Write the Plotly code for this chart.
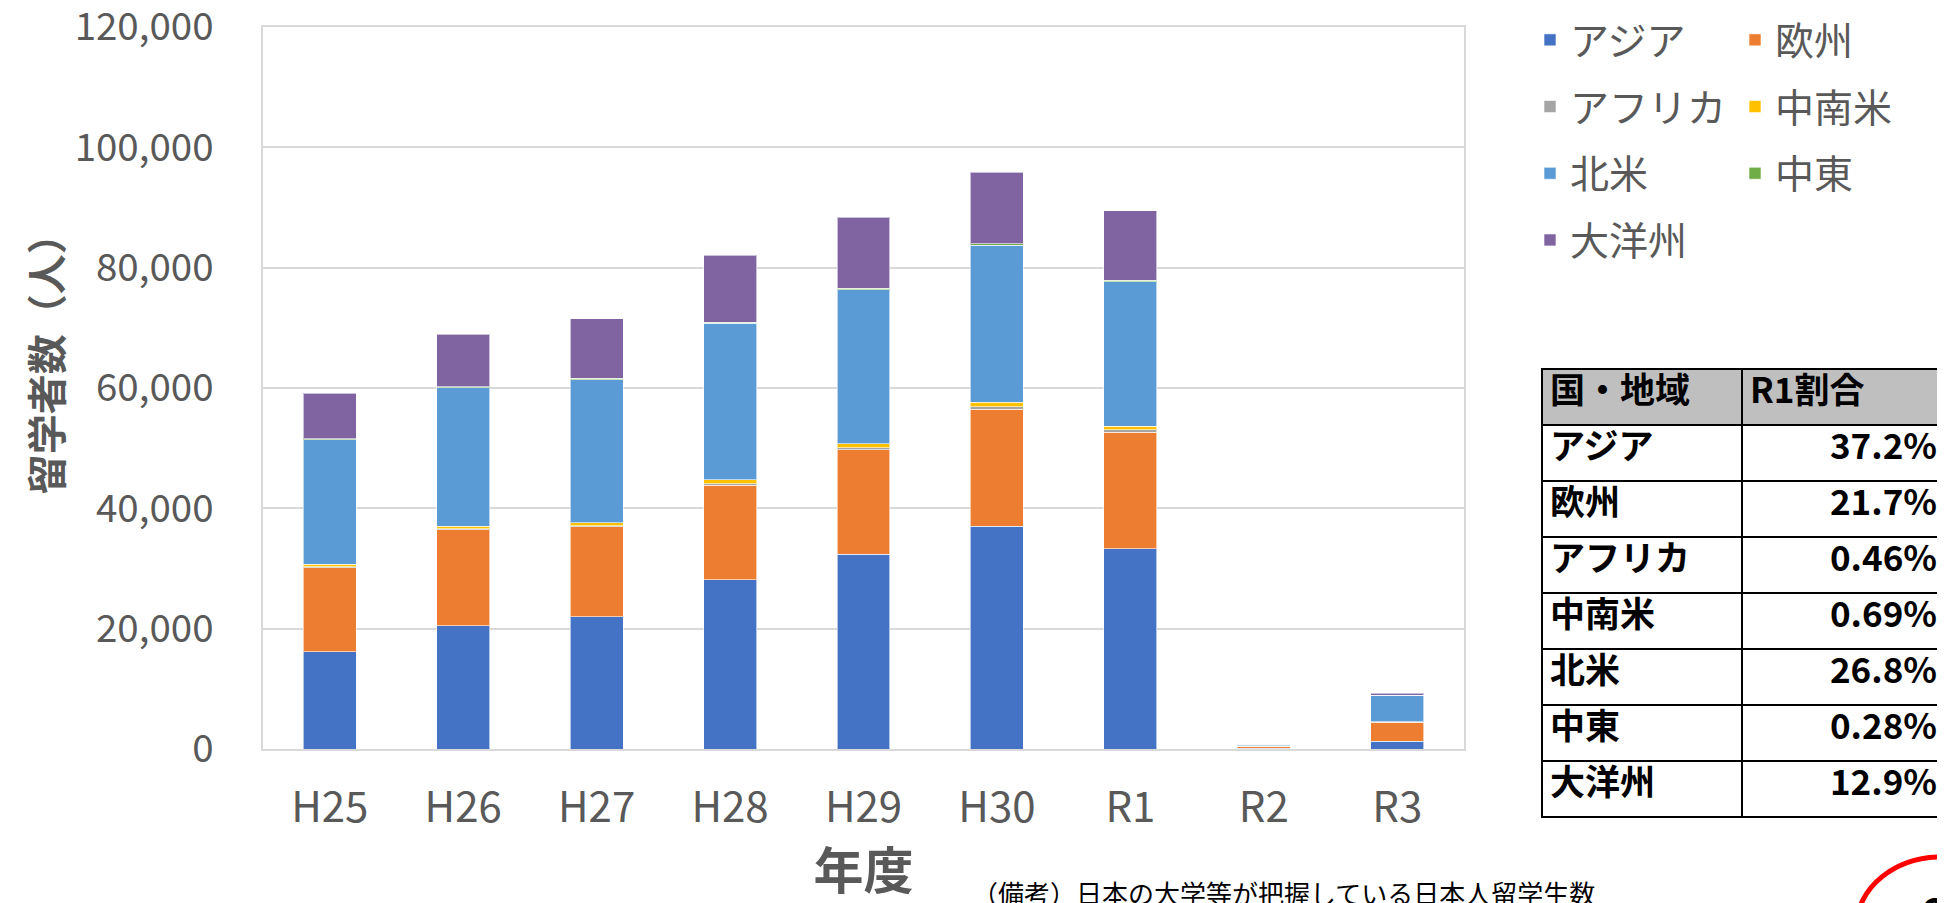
import plotly.graph_objects as go

# The page places the figure 8px in from the top-left corner, so the figure is
# 8px smaller than the window and positions below are given in window pixels.
OFF = 8
W, H = 1945 - OFF, 903 - OFF

categories = ["H25", "H26", "H27", "H28", "H29", "H30", "R1", "R2", "R3"]
asia = [16200, 20500, 22000, 28100, 32400, 37000, 33250, 150, 1280]
europe = [13900, 15900, 14900, 15700, 17350, 19450, 19400, 330, 3200]
africa = [200, 200, 200, 250, 300, 450, 410, 10, 30]
latam = [400, 450, 500, 700, 650, 700, 620, 10, 40]
namerica = [20700, 23000, 23800, 26050, 25600, 26100, 23950, 280, 4400]
mideast = [150, 200, 200, 150, 300, 250, 250, 10, 20]
oceania = [7550, 8700, 9900, 11100, 11800, 11900, 11550, 30, 330]

series_names = ["アジア", "欧州", "アフリカ", "中南米", "北米", "中東", "大洋州"]
series_values = [asia, europe, africa, latam, namerica, mideast, oceania]
series_colors = ["#4472C4", "#ED7D31", "#A5A5A5", "#FFC000", "#5B9BD5", "#70AD47", "#8064A2"]
legend_of = ["legend", "legend2", "legend", "legend2", "legend", "legend2", "legend"]

y_ticks = [0, 20000, 40000, 60000, 80000, 100000, 120000]

table_header = ["国・地域", "R1割合"]
table_regions_rows = ["アジア", "欧州", "アフリカ", "中南米", "北米", "中東", "大洋州"]
table_shares = ["37.2%", "21.7%", "0.46%", "0.69%", "26.8%", "0.28%", "12.9%"]

note_text = "（備考）日本の大学等が把握している日本人留学生数"

FONT = "Noto Sans CJK JP"
GRAY = "#595959"
GRID = "#D9D9D9"


def px_x(x):
    return (x - OFF) / W


def px_y(y):
    return (H - (y - OFF)) / H


fig = go.Figure()
for name, vals, col, lg in zip(series_names, series_values, series_colors, legend_of):
    fig.add_trace(go.Bar(
        x=categories, y=vals, name=name,
        marker=dict(color=col, line=dict(color="rgba(255,255,255,0.6)", width=1)),
        legend=lg, legendgroup=name,
    ))

table_font = dict(family=FONT, size=35, color="#000000", weight="bold")
fig.add_trace(go.Table(
    domain=dict(x=[px_x(1542), 1.0], y=[0.0, px_y(369)]),
    columnwidth=[200, 203],
    header=dict(
        values=table_header,
        fill_color="#BFBFBF",
        line=dict(color="#000000", width=2),
        align=["left", "left"],
        font=table_font,
        height=56,
    ),
    cells=dict(
        values=[table_regions_rows, table_shares],
        fill_color="#FFFFFF",
        line=dict(color="#000000", width=2),
        align=["left", "right"],
        font=table_font,
        height=56,
    ),
))

fig.update_layout(
    width=W, height=H,
    margin=dict(l=0, r=0, t=0, b=0),
    paper_bgcolor="white", plot_bgcolor="white",
    barmode="stack", bargap=0.603,
    font=dict(family=FONT, color=GRAY, size=33),
    xaxis=dict(
        domain=[px_x(263), px_x(1464)],
        showline=True, linecolor=GRID, linewidth=2, mirror=True,
        ticks="", ticklabelstandoff=21,
        tickfont=dict(size=42, color=GRAY),
        title=dict(text="<b>年度</b>", font=dict(size=50, color=GRAY), standoff=14),
        automargin=False,
    ),
    yaxis=dict(
        domain=[px_y(749), px_y(27)],
        range=[0, 120000], tickvals=y_ticks, tickformat=",",
        ticklabeloverflow="allow",
        showgrid=True, gridcolor=GRID, gridwidth=1.5,
        showline=True, linecolor=GRID, linewidth=1.5, mirror=True,
        zeroline=False,
        ticks="", ticklabelstandoff=40,
        tickfont=dict(size=38.5, color=GRAY),
        title=dict(text="<b>　&nbsp;&nbsp;&nbsp;留学者数（人）</b>", font=dict(size=40, color=GRAY), standoff=0),
        automargin=False,
    ),
    legend=dict(
        x=px_x(1530), y=1.0, xanchor="left", yanchor="top",
        orientation="v", traceorder="grouped", tracegroupgap=13,
        font=dict(size=39, color=GRAY), bgcolor="rgba(0,0,0,0)",
    ),
    legend2=dict(
        x=px_x(1735), y=1.0, xanchor="left", yanchor="top",
        orientation="v", traceorder="grouped", tracegroupgap=13,
        font=dict(size=39, color=GRAY), bgcolor="rgba(0,0,0,0)",
    ),
    showlegend=True,
)

fig.add_annotation(
    text=note_text, xref="paper", yref="paper",
    x=px_x(970), y=px_y(892), xanchor="left", yanchor="middle",
    showarrow=False, font=dict(family=FONT, size=26, color="#000000"),
)

fig.add_shape(
    type="circle", xref="paper", yref="paper",
    x0=px_x(1857), x1=px_x(2027), y0=px_y(993), y1=px_y(857),
    line=dict(color="#FF0000", width=5),
)
fig.add_annotation(
    text="<b>2</b>", xref="paper", yref="paper",
    x=px_x(1922), y=px_y(880), xanchor="left", yanchor="top",
    showarrow=False, font=dict(family=FONT, size=40, color="#000000"),
)

fig.write_html("out.html")
